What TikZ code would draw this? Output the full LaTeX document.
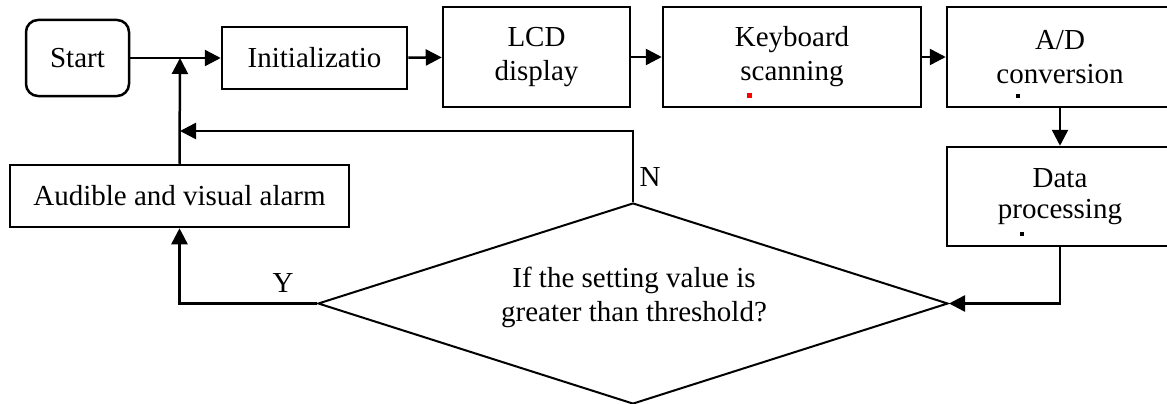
\documentclass[tikz,border=0pt]{standalone}
\usepackage{fontspec}
\setmainfont{Liberation Serif}
\usetikzlibrary{arrows.meta,shapes.geometric}
\tikzset{
  box/.style={draw, line width=2.5pt, inner sep=0pt, align=center,
    font=\fontsize{29}{34}\selectfont},
  conn/.style={line width=2.5pt, -{Triangle[length=16pt,width=16pt]}},
  plain/.style={line width=2.5pt},
  lbl/.style={inner sep=0pt, font=\fontsize{29}{34}\selectfont}
}
\begin{document}
\begin{tikzpicture}[x=1pt,y=-1pt]
\useasboundingbox (0,0) rectangle (1167,404);
\node[box, rounded corners=12pt, minimum width=103pt, minimum height=76pt] (start) at (77.5,58) {Start};
\node[box, minimum width=185pt, minimum height=62pt] (init) at (314.5,58) {Initializatio};
\node[box, minimum width=187pt, minimum height=100pt] (lcd) at (536.5,57) {LCD\\display};
\node[box, minimum width=258pt, minimum height=100pt] (kbd) at (792,57) {Keyboard\\scanning};
\node[box, minimum width=226pt, minimum height=100pt] (ad) at (1060,57) {A/D\\conversion};
\node[box, minimum width=226pt, minimum height=99pt, font=\fontsize{29}{31}\selectfont] (data) at (1060,196.5) {Data\\processing};
\node[box, minimum width=339pt, minimum height=62pt] (alarm) at (179.5,196) {Audible and visual alarm};
\node[draw, line width=2pt, shape=diamond, aspect=3.13, inner sep=0pt,
  minimum width=630pt, minimum height=201pt] (dec) at (633,303.5) {};
\node[lbl, align=center] (dtext) at (634,297) {If the setting value is\\greater than threshold?};
\node[lbl] (nlab) at (650,177) {N};
\node[lbl] (ylab) at (283,283) {Y};
% clipped fragments of hidden third lines
\fill[red] (747,93) rectangle (752,98);
\fill (1016,94) rectangle (1020,98);
\fill (1020,232) rectangle (1024,236);
% connectors
\coordinate (j1) at (180,58);
\coordinate (j2) at (180,131);
\draw[plain] (start.east) -- (j1);
\draw[conn] (j1) -- (init.west);
\draw[conn] (init) -- (lcd);
\draw[conn] (lcd) -- (kbd);
\draw[conn] (kbd) -- (ad);
\draw[conn] (ad.south) -- (data.north);
\draw[conn] (data.south) |- (dec.east);
\draw[conn] (dec.north) |- (j2);
\draw[conn] (dec.west) -| (alarm.south);
\draw[conn] (alarm.north) -- (j1);
\end{tikzpicture}
\end{document}
